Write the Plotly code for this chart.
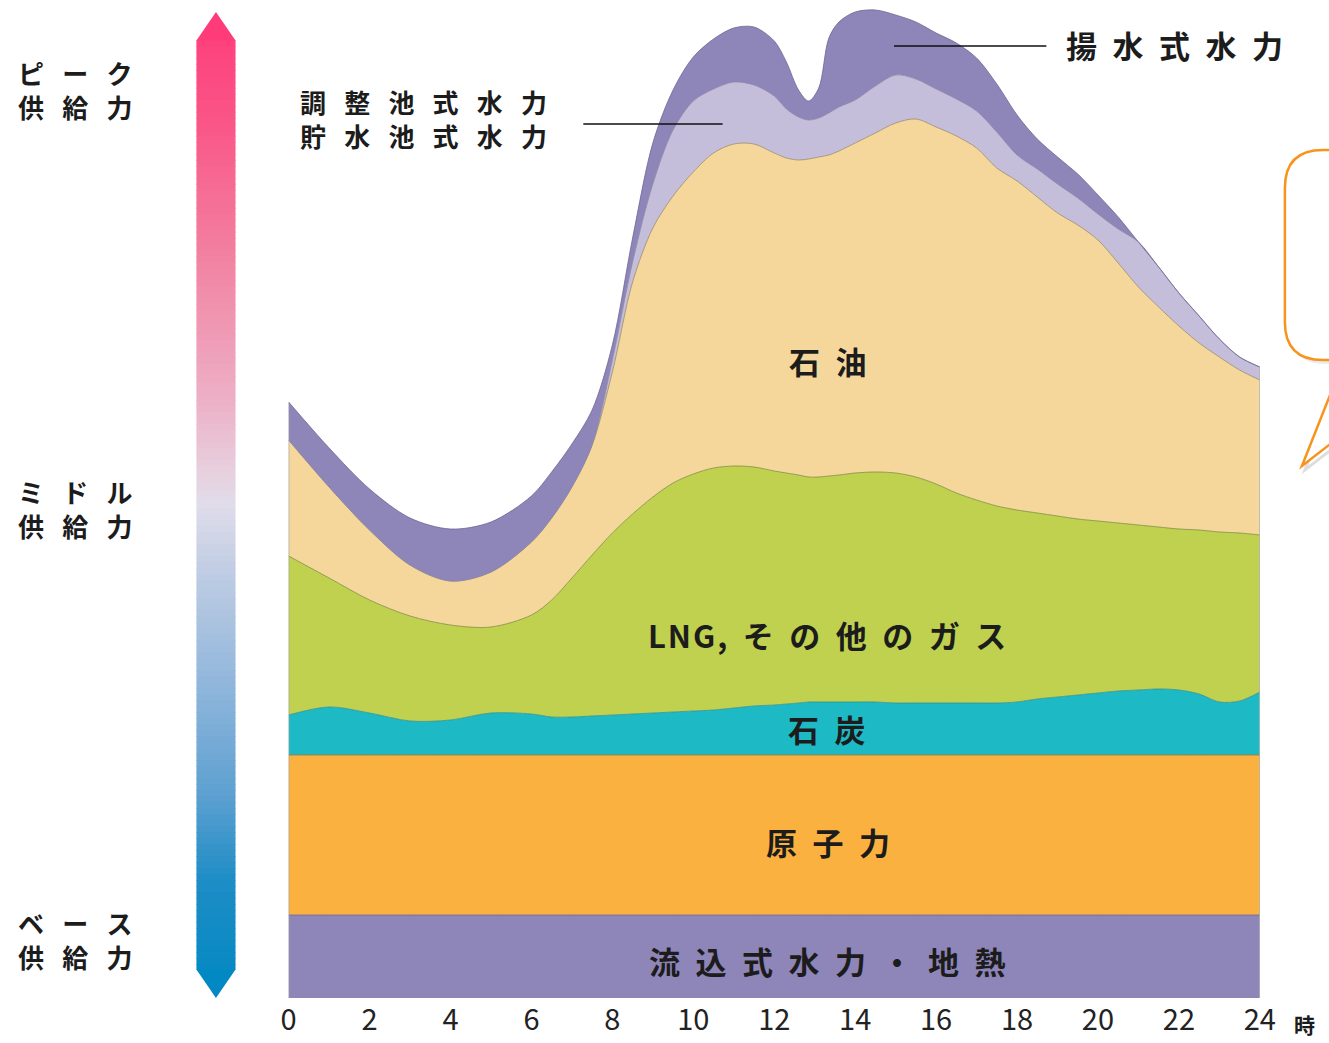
import plotly.graph_objects as go

# figure size and a small calibration of the page photograph (target px -> figure px)
FW, FH = 1350, 1050
SX, OX, SY = 0.98, 9.0, 1.0

# ---------------- data (hour of day, stacked supply by source; relative units) -------------
hours = [0, 1, 2, 3, 4, 5, 6, 6.5, 7, 7.5, 8, 8.5, 9, 9.5, 10, 10.5, 11, 11.5, 12,
         12.3, 12.6, 12.85, 13.1, 13.35, 13.6,
         14, 14.5, 15, 15.5, 16, 16.5, 17, 17.5, 18, 18.5, 19, 19.5, 20, 20.5,
         21, 21.5, 22, 22.5, 23, 23.5, 24]

run_of_river_geo = [83, 83, 83, 83, 83, 83, 83, 83, 83, 83, 83, 83, 83, 83, 83, 83, 83, 83, 83,
                    83, 83, 83, 83, 83, 83,
                    83, 83, 83, 83, 83, 83, 83, 83, 83, 83, 83, 83, 83, 83, 83, 83, 83, 83, 83, 83, 83]
nuclear = [160, 160, 160, 160, 160, 160, 160, 160, 160, 160, 160, 160, 160, 160, 160, 160, 160, 160, 160,
           160, 160, 160, 160, 160, 160,
           160, 160, 160, 160, 160, 160, 160, 160, 160, 160, 160, 160, 160, 160, 160, 160, 160, 160, 160, 160, 160]
coal = [40, 48, 42, 34, 35, 42, 41, 38, 38, 39, 40, 41, 42, 43, 44, 45, 47, 49, 50,
        51, 52, 53, 53, 53, 53,
        53, 53, 52, 52, 52, 52, 52, 52, 53, 56, 58, 60, 62, 64, 65, 66, 65, 61, 53, 54, 63]
lng_gas = [159, 129, 113, 105, 95, 86, 99, 117, 139, 161, 182, 200, 216, 229, 237, 242, 242, 239, 234,
           231, 228, 225, 225, 226, 227,
           229, 230, 230, 226, 219, 210, 203, 197, 192, 186, 181, 176, 172, 168, 165, 162, 161, 164, 170, 168, 157]
oil = [116, 91, 70, 51, 44, 55, 73, 82, 91, 110, 161, 232, 269, 287, 302, 315, 322, 323, 318,
       315, 315, 318, 320, 321, 324,
       330, 339, 350, 358, 357, 357, 352, 338, 329, 316, 303, 294, 281, 260, 238, 220, 203, 187, 175, 163, 155]
reservoir_hydro = [0, 0, 0, 0, 0, 0, 0, 0, 0, 0, 12, 20, 44, 66, 71, 64, 62, 59, 57,
                   49, 43, 39, 39, 42, 44,
                   43, 47, 48, 40, 38, 37, 37, 36, 26, 28, 29, 27, 26, 34, 45, 40, 33, 27, 18, 13, 13]
pumped_hydro = [38, 39, 41, 47, 52, 50, 46, 46, 43, 35, 15, 24, 41, 40, 44, 50, 54, 58, 55,
                47, 27, 19, 30, 75, 85,
                88, 76, 60, 57, 56, 56, 53, 48, 40, 30, 27, 24, 19, 12, 0, 0, 0, 0, 0, 0, 0]

series_names = ["流込式水力・地熱", "原子力", "石炭", "LNG,その他のガス", "石油",
                "調整池式水力・貯水池式水力", "揚水式水力"]
tick_hours = [0, 2, 4, 6, 8, 10, 12, 14, 16, 18, 20, 22, 24]
tick_labels = ["0", "2", "4", "6", "8", "10", "12", "14", "16", "18", "20", "22", "24"]

# ---------------- styling -------------
colors = ["#8E85B8", "#FBB140", "#1DBAC6", "#BFD14F", "#F5D79B", "#C4BEDB", "#8E85B8"]
edge_colors = ["#6f6795", "#9a7a3a", "#2d8f96", "#7f8c3a", "#9a8a66", "#8c86a6", "#6f6795"]
FONT = "Noto Sans CJK JP, Noto Sans CJK SC, sans-serif"
TXT = "#1c1c1c"
SP = "\u2002"
SP2 = "\u2002\u2009"


def px(x):
    return ((x - OX) / SX) / FW


def py(y):
    return 1 - (y / SY) / FH


def spaced(s, sp=SP):
    return sp.join(list(s))


fig = go.Figure()
all_series = [run_of_river_geo, nuclear, coal, lng_gas, oil, reservoir_hydro, pumped_hydro]
for name, vals, c, ec in zip(series_names, all_series, colors, edge_colors):
    fig.add_trace(go.Scatter(
        x=hours, y=vals, name=name, stackgroup="supply", mode="lines",
        line=dict(color=ec, width=0.8, shape="spline", smoothing=0.9),
        fillcolor=c, hoverinfo="x+y+name"))

# left/right edges of the stacked area (derived from data)
tot_start = sum(s[0] for s in all_series)
tot_end = sum(s[-1] for s in all_series)

shapes = []
shapes.append(dict(type="line", xref="x", yref="y", x0=hours[0], x1=hours[0], y0=0, y1=tot_start,
                   line=dict(color="#9a9a9a", width=1.2)))
shapes.append(dict(type="line", xref="x", yref="y", x0=hours[-1], x1=hours[-1], y0=0, y1=tot_end,
                   line=dict(color="#a8a8a8", width=1.2)))

# ---------------- gradient arrow (decoration) -------------
grad_stops = [(12, (255, 59, 122)), (120, (250, 85, 135)), (250, (242, 127, 160)),
              (400, (237, 176, 198)), (470, (231, 207, 221)), (505, (224, 220, 234)),
              (580, (188, 203, 227)), (700, (138, 179, 218)), (800, (90, 159, 208)),
              (880, (30, 141, 198)), (998, (0, 136, 194))]


def grad_color(y):
    for (y0, c0), (y1, c1) in zip(grad_stops[:-1], grad_stops[1:]):
        if y0 <= y <= y1:
            t = (y - y0) / (y1 - y0)
            r = [round(a + (b - a) * t) for a, b in zip(c0, c1)]
            return "rgb(%d,%d,%d)" % tuple(r)
    c = grad_stops[0][1] if y < grad_stops[0][0] else grad_stops[-1][1]
    return "rgb(%d,%d,%d)" % c


AX0, AX1, AXC = 197, 236, 216.5
top_sh, bot_sh = 40, 970
step = 6
yy = top_sh
while yy < bot_sh:
    y2 = min(yy + step + 0.8, bot_sh)
    shapes.append(dict(type="rect", xref="paper", yref="paper", x0=px(AX0), x1=px(AX1),
                       y0=py(y2), y1=py(yy), fillcolor=grad_color(yy + step / 2),
                       line=dict(width=0), layer="below"))
    yy += step
shapes.append(dict(type="path", xref="paper", yref="paper",
                   path="M %f %f L %f %f L %f %f Z" % (px(AX0), py(top_sh + 0.5), px(AXC), py(12),
                                                       px(AX1), py(top_sh + 0.5)),
                   fillcolor=grad_color(14), line=dict(width=0), layer="below"))
shapes.append(dict(type="path", xref="paper", yref="paper",
                   path="M %f %f L %f %f L %f %f Z" % (px(AX0), py(bot_sh - 0.5), px(AXC), py(998),
                                                       px(AX1), py(bot_sh - 0.5)),
                   fillcolor=grad_color(990), line=dict(width=0), layer="below"))

# ---------------- leader lines -------------
shapes.append(dict(type="line", xref="paper", yref="paper", x0=px(583), x1=px(722),
                   y0=py(124), y1=py(124), line=dict(color="#111", width=1.5)))
shapes.append(dict(type="line", xref="paper", yref="paper", x0=px(893), x1=px(1045),
                   y0=py(46), y1=py(46), line=dict(color="#111", width=1.5)))


# ---------------- callout box (cut off at the right edge of the picture) -------------
XE = 1345


def open_box(x0, y0, y1, r, dx=0, dy=0):
    x0 += dx; y0 += dy; y1 += dy
    return ("M %f %f L %f %f Q %f %f %f %f L %f %f Q %f %f %f %f L %f %f" % (
        px(XE), py(y0), px(x0 + r), py(y0), px(x0), py(y0), px(x0), py(y0 + r),
        px(x0), py(y1 - r), px(x0), py(y1), px(x0 + r), py(y1), px(XE), py(y1)))


def tail(dx=0, dy=0):
    return "M %f %f L %f %f L %f %f" % (px(1336 + dx), py(375 + dy), px(1300 + dx), py(466 + dy),
                                         px(1345 + dx), py(431 + dy))


ORANGE = "#F7941D"
shapes.append(dict(type="path", xref="paper", yref="paper", path=open_box(1283, 150, 360, 38, 3, 4),
                   fillcolor="rgba(0,0,0,0.08)", line=dict(width=0)))
shapes.append(dict(type="path", xref="paper", yref="paper", path=tail(3, 4),
                   fillcolor="rgba(0,0,0,0)", line=dict(color="rgba(0,0,0,0.13)", width=3)))
shapes.append(dict(type="path", xref="paper", yref="paper", path=open_box(1283, 150, 360, 38),
                   fillcolor="white", line=dict(color=ORANGE, width=2.5)))
shapes.append(dict(type="path", xref="paper", yref="paper", path=tail(),
                   fillcolor="white", line=dict(color=ORANGE, width=2.5)))

# ---------------- text labels -------------
ann = []


def label(text, x, y, size=31, anchor="center"):
    ann.append(dict(text=text, x=px(x), y=py(y), xref="paper", yref="paper", showarrow=False,
                    xanchor=anchor, yanchor="middle", align="left",
                    font=dict(family=FONT, size=size, color=TXT, weight="bold")))


label(spaced("石油"), 827, 360)
label(spaced("LNG,", "\u200a") + SP + spaced("その他のガス"), 826, 634)
label(spaced("石炭"), 826, 728)
label(spaced("原子力"), 827, 841)
label(spaced("流込式水力・地熱"), 827, 960)
label(spaced("揚水式水力"), 1063, 45, anchor="left")
label(spaced("調整池式水力", SP2) + "<br>" + spaced("貯水池式水力", SP2), 298, 119, size=26, anchor="left")
for top, yc in [("ピーク", 73), ("ミドル", 492), ("ベース", 923)]:
    label(spaced(top, SP2) + "<br>" + spaced("供給力", SP2), 17, yc + 16, size=26, anchor="left")
ann.append(dict(text="時", x=px(1303), y=py(1024), xref="paper", yref="paper", showarrow=False,
                xanchor="center", yanchor="middle",
                font=dict(family=FONT, size=21, color=TXT, weight="bold")))

fig.update_layout(
    width=FW, height=FH, margin=dict(l=0, r=0, t=0, b=0),
    paper_bgcolor="white", plot_bgcolor="rgba(0,0,0,0)",
    showlegend=False, shapes=shapes, annotations=ann,
    xaxis=dict(domain=[px(289), px(1258)], range=[0, 24], tickmode="array",
               tickvals=tick_hours, ticktext=tick_labels, showgrid=False, zeroline=False,
               showline=False, ticks="", ticklabelstandoff=2, fixedrange=True,
               tickfont=dict(family=FONT, size=29, color="#222")),
    yaxis=dict(domain=[py(998), py(0)], range=[0, 998], visible=False, fixedrange=True),
)

fig.write_html("out.html", config={"displayModeBar": False},
               post_script="document.documentElement.style.overflow='hidden';"
                           "document.body.style.margin='0';document.body.style.overflow='hidden';")
